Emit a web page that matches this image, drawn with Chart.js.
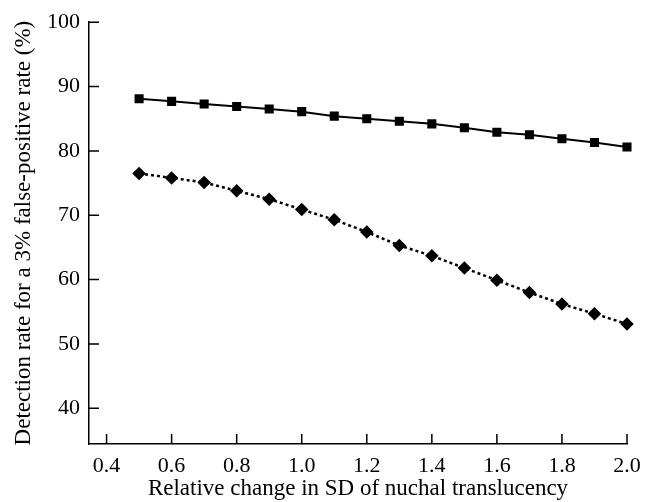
<!DOCTYPE html>
<html>
<head>
<meta charset="utf-8">
<script src="https://cdn.jsdelivr.net/npm/chart.js@4"></script>
<style>
html,body{margin:0;padding:0;background:#fff;}
#wrap{width:654px;height:502px;}
</style>
</head>
<body>
<div id="wrap"><canvas id="c" width="654" height="502"></canvas></div>
<script>
const sdChange = [0.5,0.6,0.7,0.8,0.9,1.0,1.1,1.2,1.3,1.4,1.5,1.6,1.7,1.8,1.9,2.0];
const seriesSolid = [88.1,87.7,87.3,86.9,86.5,86.1,85.4,85.0,84.6,84.2,83.6,82.9,82.5,81.9,81.3,80.6];
const seriesDotted = [76.5,75.8,75.1,73.8,72.5,70.9,69.3,67.4,65.3,63.7,61.8,59.9,58.0,56.2,54.7,53.1];
const xTicks = [0.4,0.6,0.8,1.0,1.2,1.4,1.6,1.8,2.0];
const yTicks = [40,50,60,70,80,90,100];

const FONT = "'Liberation Serif', 'DejaVu Serif', serif";

const inwardTicks = {
  id: 'inwardTicks',
  afterDraw(chart) {
    const ctx = chart.ctx;
    const xs = chart.scales.x, ys = chart.scales.y;
    const L = 10;
    ctx.save();
    ctx.strokeStyle = '#000';
    ctx.lineWidth = 1.5;
    ctx.beginPath();
    xs.ticks.forEach(t => {
      const px = xs.getPixelForValue(t.value);
      ctx.moveTo(px, ys.bottom);
      ctx.lineTo(px, ys.bottom - L);
    });
    ys.ticks.forEach(t => {
      const py = ys.getPixelForValue(t.value);
      ctx.moveTo(xs.left, py);
      ctx.lineTo(xs.left + L, py);
    });
    ctx.stroke();
    ctx.restore();
  }
};

new Chart(document.getElementById('c'), {
  type: 'line',
  data: {
    datasets: [
      {
        data: sdChange.map((x,i) => ({x, y: seriesSolid[i]})),
        borderColor: '#000',
        backgroundColor: '#000',
        borderWidth: 2,
        pointStyle: 'rect',
        pointRadius: 5,
        pointHoverRadius: 5,
        tension: 0,
        clip: false
      },
      {
        data: sdChange.map((x,i) => ({x, y: seriesDotted[i]})),
        borderColor: '#000',
        backgroundColor: '#000',
        borderWidth: 2.5,
        borderDash: [3,3],
        pointStyle: 'rectRot',
        pointRadius: 5,
        pointHoverRadius: 5,
        tension: 0,
        clip: false
      }
    ]
  },
  options: {
    responsive: false,
    animation: false,
    events: [],
    layout: { padding: { top: 22, right: 27, left: 0, bottom: 0 } },
    plugins: { legend: { display: false }, tooltip: { enabled: false } },
    scales: {
      x: {
        type: 'linear',
        min: 0.346,
        max: 2.0,
        afterBuildTicks(s) { s.ticks = xTicks.map(v => ({value: v})); },
        afterFit(s) { s.height = 58; },
        grid: { display: false, drawTicks: false },
        border: { display: true, color: '#000', width: 1.5 },
        ticks: {
          color: '#000',
          padding: 9,
          maxRotation: 0,
          autoSkip: false,
          font: { family: FONT, size: 22 },
          callback: v => Number(v).toFixed(1)
        },
        title: {
          display: true,
          text: 'Relative change in SD of nuchal translucency',
          color: '#000',
          font: { family: FONT, size: 23, lineHeight: 1.1 },
          padding: { top: 0, bottom: 0 }
        }
      },
      y: {
        type: 'linear',
        min: 34.45,
        max: 100,
        afterBuildTicks(s) { s.ticks = yTicks.map(v => ({value: v})); },
        afterFit(s) { s.width = 89; },
        grid: { display: false, drawTicks: false },
        border: { display: true, color: '#000', width: 1.5 },
        ticks: {
          color: '#000',
          padding: 9,
          autoSkip: false,
          font: { family: FONT, size: 22 },
          callback: v => String(v)
        },
        title: {
          display: true,
          text: 'Detection rate for a 3% false-positive rate (%)',
          color: '#000',
          font: { family: FONT, size: 23 },
          padding: { top: 10, bottom: 0 }
        }
      }
    }
  },
  plugins: [inwardTicks]
});
</script>
</body>
</html>
